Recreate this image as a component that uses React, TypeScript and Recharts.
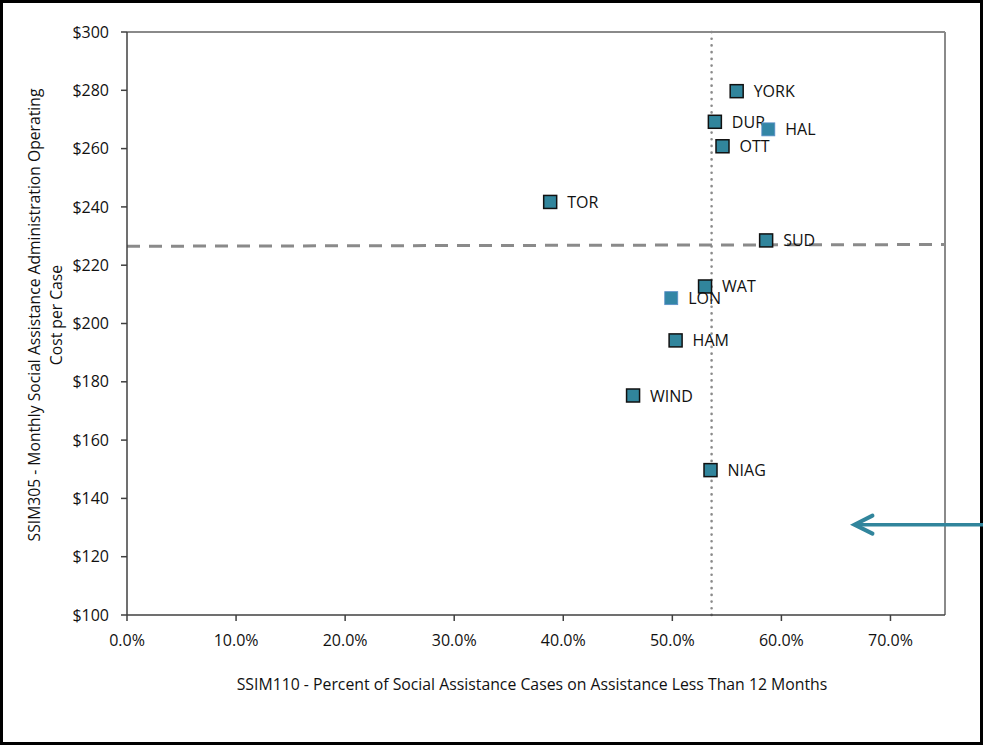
import React from 'react';
import { ScatterChart, Scatter, XAxis, YAxis, ReferenceLine } from 'recharts';

const categories = ['YORK', 'DUR', 'HAL', 'OTT', 'TOR', 'SUD', 'WAT', 'LON', 'HAM', 'WIND', 'NIAG'];
const xValues = [0.559, 0.539, 0.588, 0.546, 0.388, 0.586, 0.53, 0.499, 0.503, 0.464, 0.535];
const yValues = [279.7, 269.2, 266.6, 260.8, 241.7, 228.5, 212.7, 208.7, 194.2, 175.3, 149.7];
const xTicks = [0, 0.1, 0.2, 0.3, 0.4, 0.5, 0.6, 0.7];
const yTicks = [100, 120, 140, 160, 180, 200, 220, 240, 260, 280, 300];
const xMedian = 0.536;
const yMedianStart = 226.5;
const yMedianEnd = 227.1;
const arrowStart = { x: 0.667, y: 131 };
const arrowEnd = { x: 0.8, y: 131 };
const unOutlined = ['HAL', 'LON'];

const xTitle = 'SSIM110 - Percent of Social Assistance Cases on Assistance Less Than 12 Months';
const yTitle1 = 'SSIM305 - Monthly Social Assistance Administration Operating';
const yTitle2 = 'Cost per Case';

const data = categories.map((name, i) => ({ name, x: xValues[i], y: yValues[i] }));

const FONT = '"Open Sans", sans-serif';
const TEAL = '#31859C';

const MarkerShape = (props: any) => {
  const { cx, cy, payload } = props;
  const plain = unOutlined.includes(payload.name);
  return (
    <g>
      <rect
        x={cx - 6.5}
        y={cy - 6.5}
        width={13}
        height={13}
        fill={plain ? '#3386A6' : TEAL}
        stroke={plain ? '#5b8fc9' : '#111'}
        strokeWidth={plain ? 0.8 : 1.5}
      />
      <text
        x={cx + 17}
        y={cy}
        dominantBaseline="central"
        fontFamily={FONT}
        fontSize={16}
        fill="#111"
      >
        {payload.name}
      </text>
    </g>
  );
};

const ArrowShape = (props: any) => {
  const { x1, y1, x2, y2 } = props;
  const left = Math.min(x1, x2);
  const right = Math.max(x1, x2);
  const y = (y1 + y2) / 2;
  return (
    <g>
      <line x1={left + 2} y1={y} x2={right} y2={y} stroke={TEAL} strokeWidth={3.5} />
      <polyline
        points={`${left + 18},${y - 9} ${left},${y} ${left + 18},${y + 9}`}
        fill="none"
        stroke={TEAL}
        strokeWidth={4}
        strokeLinecap="round"
        strokeLinejoin="miter"
      />
    </g>
  );
};

const YTitle = () => {
  const cx = 35;
  const cy = 315;
  return (
    <text
      transform={`rotate(-90, ${cx}, ${cy})`}
      x={cx}
      y={cy}
      textAnchor="middle"
      fontFamily={FONT}
      fontSize={15.7}
      fill="#111"
    >
      <tspan x={cx} dy="0.35em">{yTitle1}</tspan>
      <tspan x={cx} dy="1.38em">{yTitle2}</tspan>
    </text>
  );
};

const XTitle = () => (
  <text x={532} y={684} textAnchor="middle" dominantBaseline="central" fontFamily={FONT} fontSize={15.8} fill="#111">
    {xTitle}
  </text>
);

export default function App() {
  return (
    <div style={{ position: 'relative', width: 983, height: 745, background: '#fff' }}>
      <style>{`body{margin:0;}`}</style>
      <div
        style={{
          position: 'absolute',
          left: 0,
          top: 0,
          width: 983,
          height: 745,
          border: '3px solid #000',
          boxSizing: 'border-box',
        }}
      />
      <div style={{ position: 'absolute', left: 0, top: 0 }}>
        <ScatterChart width={983} height={745} margin={{ top: 32, right: 38, bottom: 30, left: 0 }}>
          <XAxis
            type="number"
            dataKey="x"
            domain={[0, 0.75]}
            ticks={xTicks}
            allowDataOverflow
            tickFormatter={(v: number) => (v * 100).toFixed(1) + '%'}
            tick={{ fontFamily: FONT, fontSize: 16, fill: '#111' }}
            tickSize={6}
            tickMargin={14}
            axisLine={{ stroke: '#404040', strokeWidth: 1.5 }}
            tickLine={{ stroke: '#404040', strokeWidth: 1.5 }}
            height={100}
            label={<XTitle />}
          />
          <YAxis
            type="number"
            dataKey="y"
            domain={[100, 300]}
            ticks={yTicks}
            allowDataOverflow
            tickFormatter={(v: number) => '$' + v}
            tick={{ fontFamily: FONT, fontSize: 16, fill: '#111' }}
            tickSize={6}
            tickMargin={12}
            axisLine={{ stroke: '#404040', strokeWidth: 1.5 }}
            tickLine={{ stroke: '#404040', strokeWidth: 1.5 }}
            width={127}
            label={<YTitle />}
          />
          <ReferenceLine y={300} stroke="#8a8a8a" strokeWidth={2} />
          <ReferenceLine x={0.75} stroke="#8a8a8a" strokeWidth={2} />
          <Scatter data={data} shape={<MarkerShape />} isAnimationActive={false} />
          <ReferenceLine
            x={xMedian}
            stroke="#8a8a8a"
            strokeWidth={2.6}
            strokeDasharray="0.1 6.6"
            strokeLinecap="round"
          />
          <ReferenceLine
            segment={[
              { x: 0, y: yMedianStart },
              { x: 0.75, y: yMedianEnd },
            ]}
            stroke="#8a8a8a"
            strokeWidth={3}
            strokeDasharray="13 9"
          />
          <ReferenceLine
            segment={[arrowStart, arrowEnd]}
            ifOverflow="visible"
            shape={<ArrowShape />}
          />
        </ScatterChart>
      </div>
    </div>
  );
}
